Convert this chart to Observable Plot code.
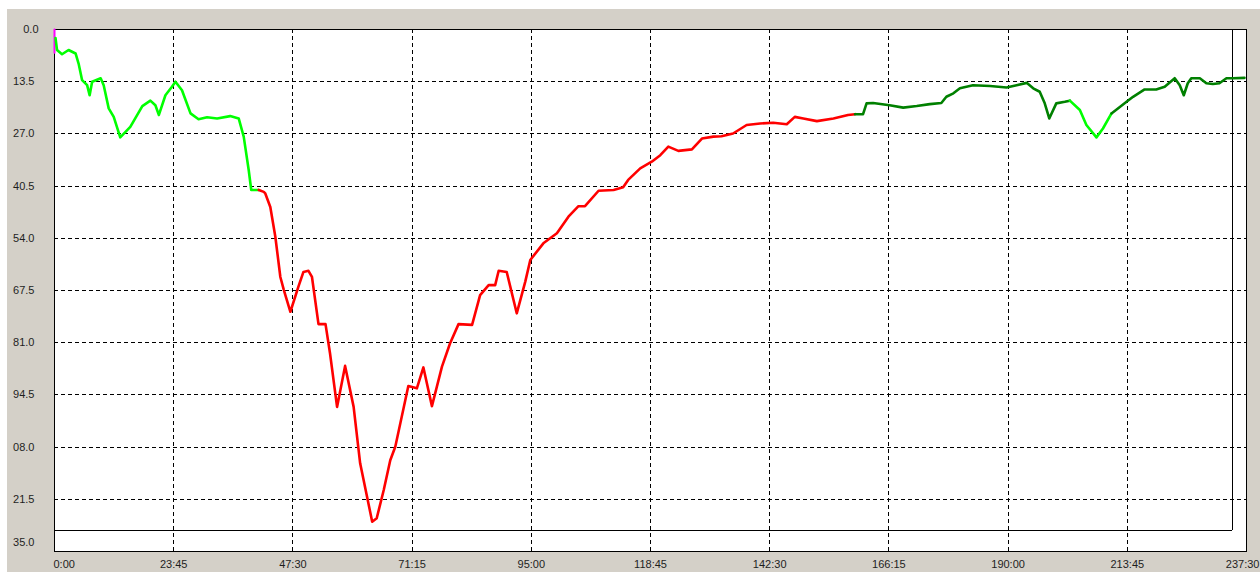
<!DOCTYPE html>
<html>
<head>
<meta charset="utf-8">
<script src="https://cdn.jsdelivr.net/npm/d3@7"></script>
<script src="https://cdn.jsdelivr.net/npm/@observablehq/plot@0.6"></script>
<style>
html, body { margin: 0; padding: 0; background: #ffffff; width: 1260px; height: 572px; overflow: hidden; }
#panel { position: absolute; left: 7px; top: 9px; width: 1253px; height: 563px; background: #d4d0c8; }
#chart { position: absolute; left: 0; top: 0; }
</style>
</head>
<body>
<div id="panel"></div>
<div id="chart"></div>
<script>
// Elapsed time (hours) and value (axis runs downward)
const hours = [
  0.2, 0.5, 1.5, 2.8, 4.2, 4.8, 5.5, 6.5, 7.0, 7.5, 9.2, 9.8, 10.8, 11.8, 13.1, 15.1, 17.5, 19.1, 20.1, 20.8,
  22.1, 23.4, 24.1, 25.4, 27.1, 28.7, 30.4, 32.4, 35.0, 36.7, 37.7, 38.7, 39.2, 40.7,
  41.7, 42.0, 43.0, 44.0, 45.0, 45.7, 47.0, 48.6, 49.6, 50.6, 51.3, 52.6, 54.0, 54.9, 56.3, 57.9,
  59.6, 60.9, 63.3, 64.2, 65.6, 66.9, 67.9, 70.5, 72.2, 73.5, 75.2, 77.2, 78.8, 80.5, 83.2, 84.8,
  86.5, 87.8, 88.5, 90.1, 92.1, 93.8, 94.8, 97.4, 100.1, 102.4, 104.4, 105.7, 108.4, 111.4, 113.3,
  114.3, 116.7, 119.0, 120.7, 122.3, 124.3, 127.0, 129.0, 131.3, 132.9, 135.2, 137.9, 140.6, 143.2,
  145.9, 147.5, 149.2, 151.9, 155.2, 158.1, 159.5,
  161.1, 161.8, 163.1, 166.4, 169.1, 171.8, 174.4, 176.7, 177.7, 179.1, 180.4, 183.0, 186.4, 189.7,
  191.7, 193.7, 195.0, 196.3, 197.3, 198.2, 199.6, 201.3, 202.3,
  204.3, 205.6, 207.6, 208.9, 210.6,
  213.6, 214.9, 217.2, 219.5, 221.2, 223.2, 224.2, 225.0, 225.8, 226.5, 228.2, 229.5, 230.8, 232.1,
  233.5, 234.8, 237.1
];
const depth = [
  2.2, 5.3, 6.4, 5.3, 6.2, 8.8, 13.1, 14.4, 17.0, 13.5, 12.6, 14.4, 20.4, 22.6, 27.9, 25.2, 19.8, 18.4, 19.6, 22.1,
  17.0, 14.8, 13.5, 15.7, 21.7, 23.2, 22.7, 23.0, 22.4, 23.0, 27.7, 36.4, 41.5, 41.5,
  42.0, 42.4, 45.9, 53.6, 64.0, 67.4, 73.0, 66.5, 62.7, 62.4, 64.0, 76.2, 76.2, 83.8, 97.6, 87.0,
  97.6, 112.2, 127.3, 126.4, 119.1, 111.4, 107.9, 92.2, 92.8, 87.4, 97.4, 87.2, 81.2, 76.2, 76.4, 68.7,
  66.1, 66.1, 62.4, 62.7, 73.4, 65.2, 59.6, 55.3, 52.7, 48.4, 45.7, 45.7, 41.7, 41.5, 40.8,
  38.9, 35.9, 34.2, 32.5, 30.3, 31.4, 31.0, 28.2, 27.7, 27.6, 26.9, 24.7, 24.3, 24.1,
  24.5, 22.6, 23.0, 23.7, 23.0, 22.1, 21.9,
  21.9, 19.1, 19.0, 19.6, 20.2, 19.8, 19.3, 19.0, 17.4, 16.5, 15.2, 14.4, 14.6, 15.0,
  14.4, 13.8, 15.2, 16.1, 19.1, 23.0, 19.1, 18.7, 18.4,
  20.8, 24.7, 27.9, 25.6, 21.7,
  18.7, 17.4, 15.5, 15.5, 14.8, 12.6, 14.4, 17.0, 13.9, 12.6, 12.6, 13.9, 14.1, 13.9,
  12.6, 12.6, 12.5
];
// Colour phases: colour changes at these hours
const phaseBreaks = [40.7, 159.5, 202.3, 210.6];
const phaseColors = ["#00ff00", "#ff0000", "#008000", "#00ff00", "#008000"];
// Short start marker
const startHours = [0, 0];
const startDepth = [0, 6.0];
// Inner limit lines
const innerHours = 234.7;
const innerDepth = 129.5;

const xTicks = [0, 23.75, 47.5, 71.25, 95, 118.75, 142.5, 166.25, 190, 213.75, 237.5];
const xTickLabels = ["0:00", "23:45", "47:30", "71:15", "95:00", "118:45", "142:30", "166:15", "190:00", "213:45", "237:30"];
const yTicks = [0, 13.5, 27, 40.5, 54, 67.5, 81, 94.5, 108, 121.5, 135];
const yTickLabels = ["0.0", "13.5", "27.0", "40.5", "54.0", "67.5", "81.0", "94.5", "08.0", "21.5", "35.0"];

// Build line rows with a segment index per colour phase
const rows = [];
hours.forEach((h, i) => {
  const p = phaseBreaks.filter(b => h >= b).length;
  rows.push({h, d: depth[i], seg: p});
  if (phaseBreaks.includes(h)) rows.push({h, d: depth[i], seg: p - 1});
});
const startRows = startHours.map((h, i) => ({h, d: startDepth[i]}));

const xLab = d => xTickLabels[xTicks.indexOf(d)];
const yLab = d => yTickLabels[yTicks.indexOf(d)];
const txt = "#1e1e1e";
const gridStyle = {stroke: "black", strokeOpacity: 1, strokeDasharray: "4,3", shapeRendering: "crispEdges"};

const chart = Plot.plot({
  width: 1260,
  height: 572,
  marginLeft: 54,
  marginRight: 14,
  marginTop: 29,
  marginBottom: 21,
  style: {background: "transparent", fontFamily: "'Liberation Sans', Arial, sans-serif", fontSize: "11px", color: txt},
  x: {domain: [0, 237.5], label: null},
  y: {domain: [0, 135], reverse: true, label: null},
  color: {type: "identity"},
  marks: [
    Plot.frame({fill: "white", stroke: "black", shapeRendering: "crispEdges"}),
    Plot.gridX(xTicks, gridStyle),
    Plot.gridY(yTicks, gridStyle),
    Plot.ruleY([innerDepth], {x1: 0, x2: innerHours, stroke: "black", shapeRendering: "crispEdges"}),
    Plot.ruleX([innerHours], {y1: 0, y2: innerDepth, stroke: "black", shapeRendering: "crispEdges"}),
    Plot.line(startRows, {x: "h", y: "d", stroke: "#ff00ff", strokeWidth: 2}),
    Plot.line(rows, {x: "h", y: "d", z: "seg", stroke: d => phaseColors[d.seg], strokeWidth: 2.6}),
    Plot.axisX(xTicks.slice(1, -1), {tickSize: 0, tickPadding: 9, tickFormat: xLab, label: null, fill: txt}),
    Plot.axisX([0], {tickSize: 0, tickPadding: 9, tickFormat: xLab, label: null, textAnchor: "start", dx: -1, fill: txt}),
    Plot.axisX([237.5], {tickSize: 0, tickPadding: 9, tickFormat: xLab, label: null, textAnchor: "end", dx: 13, fill: txt}),
    Plot.axisY(yTicks.slice(1, -1), {anchor: "left", tickSize: 0, tickPadding: 20, tickFormat: yLab, label: null, fill: txt}),
    Plot.axisY([0], {anchor: "left", tickSize: 0, tickPadding: 16, tickFormat: yLab, label: null, fill: txt}),
    Plot.axisY([135], {anchor: "left", tickSize: 0, tickPadding: 20, tickFormat: yLab, label: null, dy: -9, fill: txt})
  ]
});
document.getElementById("chart").appendChild(chart);
</script>
</body>
</html>
